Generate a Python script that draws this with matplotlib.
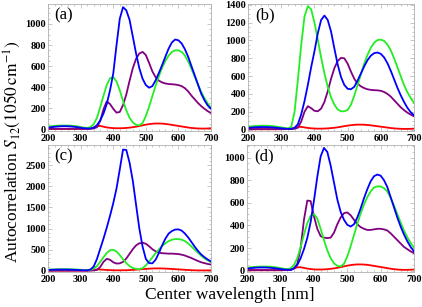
import matplotlib
matplotlib.use('Agg')
import matplotlib.pyplot as plt
from matplotlib.ticker import MultipleLocator, AutoMinorLocator

# longitudes de onda centrales (cada 10 nm)
longitudes = list(range(200, 701, 10))

# panel (a)
azul_a = [15, 20, 24, 27, 29, 30, 29, 27, 24, 20,
          15, 10, 8, 8, 15, 40, 85, 150, 240, 370,
          530, 800, 1050, 1160, 1130, 1040, 880, 720, 580, 480,
          420, 395, 410, 465, 535, 610, 690, 767, 825, 853,
          845, 815, 760, 688, 600, 513, 425, 338, 275, 226,
          195]
verde_a = [25, 30, 33, 35, 36, 36, 36, 35, 32, 28,
           22, 16, 14, 20, 50, 110, 210, 320, 420, 485,
           495, 455, 370, 270, 180, 110, 65, 42, 38, 60,
           125, 215, 315, 415, 505, 585, 650, 700, 735, 750,
           750, 735, 700, 645, 575, 500, 425, 355, 295, 245,
           205]
morado_a = [5, 5, 5, 5, 5, 5, 5, 5, 5, 5,
            5, 5, 5, 5, 8, 20, 80, 190, 265, 240,
            195, 158, 165, 230, 330, 460, 580, 670, 720, 735,
            705, 630, 550, 495, 462, 445, 435, 430, 428, 425,
            420, 410, 390, 360, 320, 285, 250, 220, 195, 172,
            155]
rojo_a = [3, 3, 3, 3, 3, 3, 3, 3, 3, 3,
          3, 4, 5, 8, 18, 32, 32, 25, 18, 14,
          11, 10, 10, 11, 13, 16, 20, 25, 31, 38,
          44, 49, 53, 55, 55, 54, 51, 47, 42, 37,
          32, 27, 22, 17, 13, 10, 8, 7, 7, 8,
          10]

# panel (b)
azul_b = [18, 22, 25, 27, 28, 28, 27, 25, 22, 18,
          14, 10, 8, 8, 20, 60, 170, 320, 500, 700,
          880, 1080, 1230, 1280, 1230, 1100, 910, 730, 590, 500,
          458, 452, 480, 550, 630, 710, 780, 830, 858, 865,
          850, 810, 745, 660, 565, 470, 385, 310, 245, 195,
          160]
verde_b = [30, 35, 40, 42, 43, 43, 42, 40, 36, 30,
           24, 18, 12, 30, 200, 560, 950, 1270, 1385, 1350,
           1200, 1010, 810, 630, 480, 360, 280, 225, 205, 205,
           220, 280, 380, 500, 620, 740, 840, 920, 975, 1005,
           1010, 995, 955, 890, 800, 700, 600, 500, 420, 355,
           300]
morado_b = [5, 5, 5, 5, 5, 5, 5, 5, 5, 5,
            5, 5, 5, 5, 8, 20, 90, 200, 262, 240,
            210, 205, 235, 310, 430, 570, 690, 770, 805, 800,
            740, 650, 570, 515, 485, 465, 452, 445, 442, 440,
            435, 422, 400, 370, 330, 290, 250, 218, 190, 168,
            150]
rojo_b = [3, 3, 3, 3, 3, 3, 3, 3, 3, 3,
          3, 4, 5, 8, 18, 30, 30, 24, 18, 14,
          11, 10, 10, 11, 13, 16, 20, 25, 31, 38,
          44, 49, 53, 55, 55, 54, 51, 47, 42, 37,
          32, 27, 22, 17, 13, 10, 8, 7, 7, 8,
          10]

# panel (c)
azul_c = [18, 22, 25, 27, 28, 28, 27, 25, 22, 18,
          14, 10, 10, 30, 100, 280, 520, 760, 1020, 1300,
          1600, 1950, 2400, 2870, 2860, 2560, 2130, 1560, 1000, 570,
          280, 180, 175, 260, 420, 600, 760, 880, 940, 975,
          980, 950, 880, 790, 680, 570, 470, 385, 320, 265,
          220]
verde_c = [25, 30, 33, 35, 36, 36, 36, 35, 32, 28,
           22, 16, 14, 20, 50, 110, 210, 320, 420, 485,
           495, 455, 370, 270, 180, 110, 65, 42, 38, 60,
           125, 215, 315, 415, 505, 585, 650, 700, 735, 750,
           750, 735, 700, 645, 575, 500, 425, 355, 295, 245,
           205]
morado_c = [5, 5, 5, 5, 5, 5, 5, 5, 5, 5,
            5, 5, 5, 5, 8, 20, 90, 210, 282, 260,
            200, 170, 175, 210, 290, 400, 510, 600, 650, 662,
            640, 580, 510, 460, 430, 415, 410, 405, 405, 400,
            395, 380, 360, 330, 300, 265, 230, 200, 180, 160,
            145]
rojo_c = [3, 3, 3, 3, 3, 3, 3, 3, 3, 3,
          3, 4, 5, 8, 18, 30, 30, 24, 18, 14,
          11, 10, 10, 11, 13, 16, 20, 25, 31, 38,
          44, 49, 53, 55, 55, 54, 51, 47, 42, 37,
          32, 27, 22, 17, 13, 10, 8, 7, 7, 8,
          10]

# panel (d)
azul_d = [18, 22, 25, 27, 28, 28, 27, 25, 22, 18,
          14, 10, 8, 8, 20, 50, 110, 190, 290, 430,
          620, 830, 1010, 1085, 1050, 930, 780, 630, 520, 450,
          405, 390, 410, 470, 550, 640, 720, 790, 835, 850,
          840, 800, 740, 650, 560, 470, 390, 320, 260, 210,
          170]
verde_d = [25, 30, 33, 35, 36, 36, 36, 35, 32, 28,
           22, 16, 14, 20, 50, 110, 210, 320, 420, 485,
           500, 460, 370, 270, 180, 110, 65, 42, 38, 60,
           125, 215, 315, 415, 505, 585, 650, 700, 735, 745,
           745, 730, 700, 645, 575, 500, 425, 355, 295, 245,
           205]
morado_d = [5, 5, 5, 5, 5, 5, 5, 5, 5, 5,
            5, 5, 5, 5, 20, 60, 200, 450, 620, 615,
            480, 370, 305, 292, 288, 292, 335, 410, 470, 508,
            515, 490, 450, 410, 385, 370, 360, 360, 365, 370,
            370, 365, 355, 330, 300, 270, 240, 210, 190, 170,
            155]
rojo_d = [3, 3, 3, 3, 3, 3, 3, 3, 3, 3,
          3, 4, 5, 8, 18, 30, 30, 24, 18, 14,
          11, 10, 10, 11, 13, 16, 20, 25, 31, 38,
          44, 49, 53, 55, 55, 54, 51, 47, 42, 37,
          32, 27, 22, 17, 13, 10, 8, 7, 7, 8,
          10]

etiquetas = ['(a)', '(b)', '(c)', '(d)']
limites_y = [(-14, 1190), (-14, 1410), (-30, 2980), (-12, 1112)]
pasos_y = [200, 200, 500, 200]

plt.rcParams['font.family'] = 'Liberation Serif'
plt.rcParams['mathtext.fontset'] = 'stix'

colorMarco = '#b0b0b0'


# Funcion auxiliar que dibuja un panel con sus cuatro curvas
def dibujaPanel(ax, azul, verde, morado, rojo, etiqueta, lim_y, paso_y):
    ax.plot(longitudes, rojo, color='#ff0000', lw=1.3)
    ax.plot(longitudes, morado, color='#800080', lw=1.3)
    ax.plot(longitudes, verde, color='#22ee22', lw=1.3)
    ax.plot(longitudes, azul, color='#0000ff', lw=1.3)

    ax.set_xlim(200, 700)
    ax.set_ylim(*lim_y)
    ax.xaxis.set_major_locator(MultipleLocator(100))
    ax.xaxis.set_minor_locator(AutoMinorLocator(5))
    ax.yaxis.set_major_locator(MultipleLocator(paso_y))
    ax.yaxis.set_minor_locator(AutoMinorLocator(5 if paso_y == 500 else 4))

    for s in ax.spines.values():
        s.set_color(colorMarco)
        s.set_linewidth(0.6)
    ax.tick_params(which='both', direction='in', top=True, right=True,
                   color=colorMarco, width=0.5)
    ax.tick_params(which='major', length=3, labelsize=7.5)
    ax.tick_params(axis='x', which='major', pad=2.5)
    ax.tick_params(axis='y', which='major', pad=1.5)
    ax.tick_params(which='minor', length=1.5)
    for lbl in ax.get_xticklabels() + ax.get_yticklabels():
        lbl.set_fontweight('bold')

    ax.text(0.04, 0.97, etiqueta, transform=ax.transAxes, ha='left', va='top',
            fontsize=12)


fig = plt.figure(figsize=(4.22, 3.07), dpi=100)

# posiciones de los paneles [izq, abajo, ancho, alto]
ax_a = fig.add_axes([0.114, 0.574, 0.386, 0.413])
ax_b = fig.add_axes([0.588, 0.574, 0.393, 0.413])
ax_c = fig.add_axes([0.114, 0.114, 0.386, 0.414])
ax_d = fig.add_axes([0.586, 0.114, 0.395, 0.414])

paneles = [(ax_a, azul_a, verde_a, morado_a, rojo_a),
           (ax_b, azul_b, verde_b, morado_b, rojo_b),
           (ax_c, azul_c, verde_c, morado_c, rojo_c),
           (ax_d, azul_d, verde_d, morado_d, rojo_d)]

for i, p in enumerate(paneles):
    dibujaPanel(p[0], p[1], p[2], p[3], p[4], etiquetas[i], limites_y[i], pasos_y[i])

fig.text(0.545, 0.038, 'Center wavelength [nm]', ha='center', va='center', fontsize=12.5)
fig.text(0.03, 0.505, r'Autocorrelation $S_{12}(1050\,\mathrm{cm}^{-1})$',
         ha='center', va='center', rotation=90, fontsize=12.5)

fig.savefig('out.png', dpi=100)
